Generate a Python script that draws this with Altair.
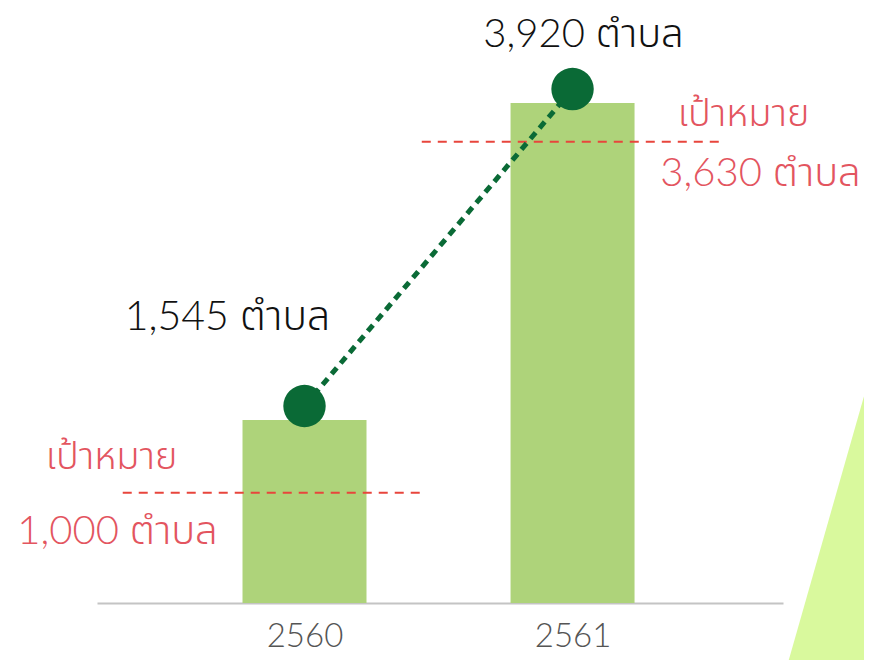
import altair as alt
import pandas as pd

# ---- data ----
years = [2560, 2561]
actual = [1545, 3920]
target = [1000, 3630]
actual_labels = ["1,545 ตำบล", "3,920 ตำบล"]
target_labels = ["1,000 ตำบล", "3,630 ตำบล"]
target_word = ["เป้าหมาย", "เป้าหมาย"]

# decorative triangle (in scale units)
tri_x = [2561.80, 2562.10]
tri_y = [-300, 1812]
tri_y2 = [-300, -300]

df = pd.DataFrame({"year": years, "actual": actual, "target": target,
                   "alabel": actual_labels, "tlabel": target_labels, "tword": target_word})
tri = pd.DataFrame({"tx": tri_x, "ty": tri_y, "ty2": tri_y2})

FONT = "Lato, Noto Sans Thai, Noto Sans, sans-serif"
xs = alt.Scale(domain=[2559.2445, 2561.7665], nice=False, zero=False)
ys = alt.Scale(domain=[174, 4632], nice=False, zero=False)

XAX = alt.Axis(values=years, format="d", title=None, grid=False, ticks=False,
               domainColor="#c4c4c4", domainWidth=2, labelFontSize=33,
               labelColor="#555555", labelFont=FONT, labelFontWeight=300,
               labelPadding=17, labelBaseline="top")

def X(field):
    return alt.X(f"{field}:Q", scale=xs, axis=XAX)

def Y(field):
    return alt.Y(f"{field}:Q", scale=ys, axis=None)

base = alt.Chart(df)

triangle = alt.Chart(tri).mark_area(color="#d9f99d").encode(
    x=X("tx"), y=Y("ty"), y2="ty2:Q")

bars = base.mark_bar(color="#aed37a", width=124, clip=True).encode(
    x=X("year"), y=Y("actual"))

def rule(year, xoff):
    return base.transform_filter(alt.datum.year == year).transform_calculate(
        xa="datum.year - 0.5625", xb="datum.year + 0.5625"
    ).mark_rule(color="#e8453c", strokeDash=[9, 7], strokeWidth=2, xOffset=xoff,
                x2Offset=xoff).encode(
        x=X("xa"), x2="xb:Q", y=Y("target"))

line = base.mark_line(color="#0a6a36", strokeDash=[8, 6], strokeWidth=5, yOffset=-14).encode(
    x=X("year"), y=Y("actual"))

dots = base.mark_point(filled=True, shape="circle", size=1800, color="#0a6a36", opacity=1,
                       yOffset=-14).encode(
    x=X("year"), y=Y("actual"))

def txt(year, field, yfield, dx, dy, color, size=38):
    return base.transform_filter(alt.datum.year == year).mark_text(
        font=FONT, fontSize=size, fontWeight=300, color=color, dx=dx, dy=dy,
        align="center", baseline="middle").encode(
        x=X("year"), y=Y(yfield), text=f"{field}:N")

texts = [
    txt(2560, "alabel", "actual", -77, -102, "#111111", 41),
    txt(2561, "alabel", "actual", 11, -68, "#111111", 40),
    txt(2560, "tword", "target", -193, -35, "#e3555f", 38),
    txt(2560, "tlabel", "target", -187, 39, "#e3555f", 40),
    txt(2561, "tword", "target", 171, -27, "#e3555f", 38),
    txt(2561, "tlabel", "target", 188, 32, "#e3555f", 40),
]

chart = alt.layer(triangle, bars, rule(2560, -31), rule(2561, 0), line, dots, *texts).properties(
    width=686, height=595,
    autosize=alt.AutoSizeParams(type="none"),
    padding={"left": 89, "top": 0, "right": 81, "bottom": 57},
).configure_view(stroke=None)

chart.save("out.html", embed_options={"renderer": "svg", "actions": False})
